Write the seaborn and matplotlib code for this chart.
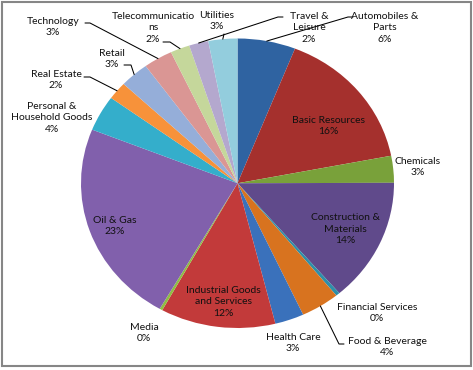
import numpy as np
import matplotlib
matplotlib.use("Agg")
import matplotlib.pyplot as plt
import seaborn as sns
from matplotlib.patches import Rectangle

# ---------------- data ----------------
categories = [
    "Automobiles & Parts", "Basic Resources", "Chemicals", "Construction & Materials",
    "Financial Services", "Food & Beverage", "Health Care", "Industrial Goods and Services",
    "Media", "Oil & Gas", "Personal & Household Goods", "Real Estate", "Retail",
    "Technology", "Telecommunications", "Travel & Leisure", "Utilities",
]
shares = [6.0, 16.0, 3.0, 13.8, 0.4, 4.0, 3.0, 11.9, 0.3, 22.8, 4.0, 2.0, 3.0, 3.0, 2.0, 2.0, 3.0]
display_names = [
    "Automobiles &\nParts", "Basic Resources", "Chemicals", "Construction &\nMaterials",
    "Financial Services", "Food & Beverage", "Health Care", "Industrial Goods\nand Services",
    "Media", "Oil & Gas", "Personal &\nHousehold Goods", "Real Estate", "Retail",
    "Technology", "Telecommunicatio\nns", "Travel &\nLeisure", "Utilities",
]

# ---------------- style ----------------
colors = [
    "#2F63A1", "#A5302D", "#79A13A", "#604A8B", "#2E8FA8", "#D8731F", "#3A71BB",
    "#C23A3A", "#8FBE43", "#8160AC", "#34AECB", "#F7923A", "#95AED9", "#DA9694",
    "#C5D79B", "#B4A8CE", "#93CDDD",
]
# label text centres (pixels) and leader paths (pixels), layout only
label_pos = [
    (385, 28), (328, 126), (418, 167), (345, 229), (377, 313), (387, 347), (293, 343),
    (223, 302), (144, 333), (115, 226), (52, 118), (56, 80), (112, 59), (53, 27),
    (153, 28), (309, 28), (217, 21),
]
leaders = {
    0: [(348, 17), (353, 17)],
    15: [(278, 17), (283, 17)],
    16: [(224, 34)],
    14: [(170, 42), (163, 42)],
    13: [(90, 23), (85, 23)],
    12: [(131, 65), (124, 65)],
    11: [(90, 77), (84, 77)],
    5: [(339, 344), (344, 344)],
}

sns.set_theme(style="white")
plt.rcParams["font.family"] = ["Lato", "DejaVu Sans"]

W, H = 473, 370
fig = plt.figure(figsize=(W / 100, H / 100), dpi=100)
fig.patch.set_facecolor("white")

# pie axes (slightly elliptical, as in the reference)
px_l, px_r, px_t, px_b = 81, 394, 38.5, 328
ax = fig.add_axes([px_l / W, 1 - px_b / H, (px_r - px_l) / W, (px_b - px_t) / H])
wedges, _ = ax.pie(shares, colors=colors, startangle=90, counterclock=False,
                   radius=1.0, wedgeprops=dict(linewidth=0))
ax.set_aspect("auto")
ax.set_xlim(-1, 1)
ax.set_ylim(-1, 1)
ax.axis("off")

# overlay axes in pixel coordinates for labels
ov = fig.add_axes([0, 0, 1, 1])
ov.set_xlim(0, W)
ov.set_ylim(H, 0)
ov.axis("off")
ov.patch.set_alpha(0)

cx, cy = (px_l + px_r) / 2, (px_t + px_b) / 2
rx, ry = (px_r - px_l) / 2, (px_b - px_t) / 2

for i, (name, val) in enumerate(zip(display_names, shares)):
    x, y = label_pos[i]
    ov.text(x, y, f"{name}\n{round(val)}%", ha="center", va="center",
            fontsize=7.5, color="#111111", linespacing=1.32, multialignment="center")
    if i in leaders:
        w = wedges[i]
        mid = np.deg2rad((w.theta1 + w.theta2) / 2)
        ax0 = cx + rx * np.cos(mid)
        ay0 = cy - ry * np.sin(mid)
        pts = [(ax0, ay0)] + leaders[i]
        xs, ys = zip(*pts)
        ov.plot(xs, ys, color="black", lw=0.75)

ov.add_patch(Rectangle((2, 2), 469, 364, fill=False, edgecolor="#868686", lw=1.5))

fig.savefig("out.png", dpi=100, facecolor="white")
